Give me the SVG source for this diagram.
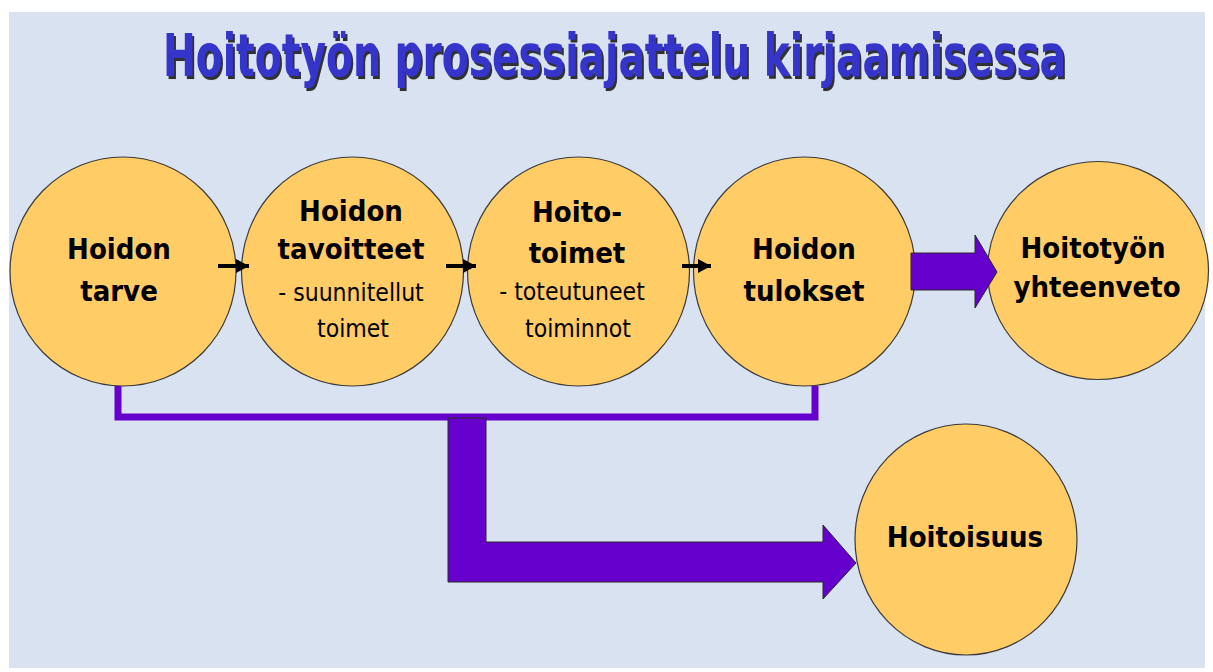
<svg xmlns="http://www.w3.org/2000/svg" width="1213" height="672" viewBox="0 0 1213 672">
<defs>
<filter id="tshadow" filterUnits="userSpaceOnUse" x="140" y="5" width="960" height="80">
<feDropShadow dx="2" dy="2.3" stdDeviation="0.6" flood-color="#1a1a1a" flood-opacity="0.9"/>
</filter>
<marker id="ah" markerUnits="userSpaceOnUse" markerWidth="14" markerHeight="14" refX="13" refY="7" orient="auto">
<path d="M0,0 L13,7 L0,14 Z" fill="#000"/>
</marker>
<style>
.node ellipse{fill:#FFCC66;stroke:#3a3a3a;stroke-width:1.2}
.b{font-family:"DejaVu Sans Condensed","DejaVu Sans",sans-serif;font-weight:bold;font-size:29px;fill:#000;text-anchor:middle}
.s{font-family:"DejaVu Sans Condensed","DejaVu Sans",sans-serif;font-size:24.5px;fill:#000;text-anchor:middle}
.purple{fill:#6600CC;stroke:#2a2a2a;stroke-width:1}
.bracket{fill:none;stroke:#6600CC;stroke-width:7;stroke-linejoin:miter}
.small{stroke:#000;stroke-width:4;fill:none}
</style>
</defs>
<rect x="0" y="0" width="1213" height="672" fill="#FFFFFF"/>
<rect x="9" y="12" width="1196" height="656" fill="#D9E2F0"/>
<g id="title" transform="scale(1,1.32)">
<text x="163" y="57.6" font-family="'DejaVu Sans Condensed','DejaVu Sans',sans-serif" font-weight="bold" font-size="44" fill="#3535CC" textLength="903" lengthAdjust="spacingAndGlyphs" filter="url(#tshadow)">Hoitotyön prosessiajattelu kirjaamisessa</text>
</g>
<g id="node-tarve" class="node">
<ellipse cx="123" cy="271.5" rx="113" ry="114.5"/>
<text class="b" x="119" y="259">Hoidon</text>
<text class="b" x="119" y="301">tarve</text>
</g>
<g id="node-tavoitteet" class="node">
<ellipse cx="352.5" cy="271.5" rx="111" ry="114.5"/>
<text class="b" x="351" y="221">Hoidon</text>
<text class="b" x="351" y="259">tavoitteet</text>
<text class="s" x="351" y="301">- suunnitellut</text>
<text class="s" x="353" y="337">toimet</text>
</g>
<g id="node-toimet" class="node">
<ellipse cx="578.5" cy="271.5" rx="111" ry="114.5"/>
<text class="b" x="577" y="222">Hoito-</text>
<text class="b" x="577" y="263">toimet</text>
<text class="s" x="572" y="300">- toteutuneet</text>
<text class="s" x="578" y="337">toiminnot</text>
</g>
<g id="node-tulokset" class="node">
<ellipse cx="804.5" cy="271.5" rx="111" ry="114.5"/>
<text class="b" x="804" y="259">Hoidon</text>
<text class="b" x="804" y="301">tulokset</text>
</g>
<g id="node-yhteenveto" class="node">
<ellipse cx="1098" cy="270.5" rx="110.5" ry="109"/>
<text class="b" x="1093" y="258">Hoitotyön</text>
<text class="b" x="1097" y="297">yhteenveto</text>
</g>
<g id="node-hoitoisuus" class="node">
<ellipse cx="966" cy="539.5" rx="111" ry="115.5"/>
<text class="b" x="965" y="547">Hoitoisuus</text>
</g>
<g id="connectors">
<path class="bracket" d="M118,386 V417 H815 V386"/>
<polygon class="purple" points="448,418 486,418 486,542 823,542 823,525 856,563 823,599 823,582 448,582"/>
<polygon class="purple" points="911,253 975,253 975,235 997,272 975,308 975,290 911,290"/>
<line class="small" x1="218" y1="266" x2="249" y2="266" marker-end="url(#ah)"/>
<line class="small" x1="446" y1="266" x2="476" y2="266" marker-end="url(#ah)"/>
<line class="small" x1="682" y1="266" x2="711" y2="266" marker-end="url(#ah)"/>
</g>
</svg>
